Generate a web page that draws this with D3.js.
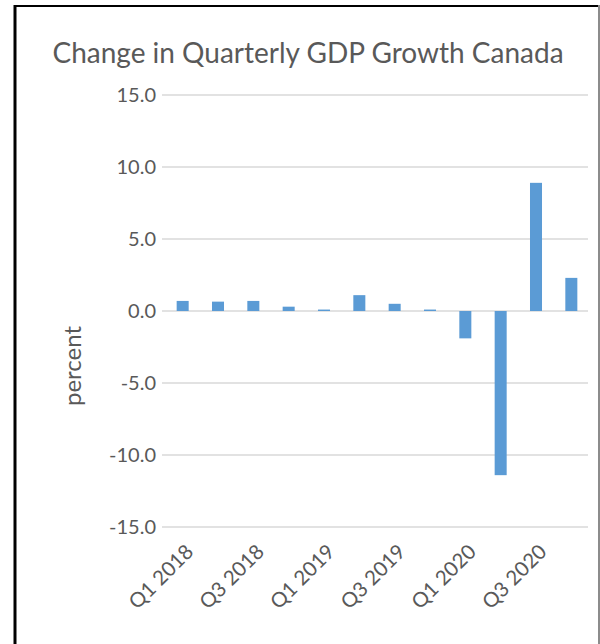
<!DOCTYPE html>
<html>
<head>
<meta charset="utf-8">
<script src="https://cdn.jsdelivr.net/npm/d3@7"></script>
<style>
  html, body { margin: 0; padding: 0; background: #fff; }
  svg { display: block; }
  text { font-family: Lato, "Open Sans", sans-serif; fill: #595959; }
</style>
</head>
<body>
<svg id="chart" width="600" height="644"></svg>
<script>
const categories = ["Q1 2018","Q2 2018","Q3 2018","Q4 2018","Q1 2019","Q2 2019","Q3 2019","Q4 2019","Q1 2020","Q2 2020","Q3 2020","Q4 2020"];
const values = [0.7, 0.65, 0.7, 0.3, 0.1, 1.1, 0.5, 0.1, -1.9, -11.4, 8.9, 2.3];
const yTicks = [-15, -10, -5, 0, 5, 10, 15];
const shownLabels = ["Q1 2018","Q3 2018","Q1 2019","Q3 2019","Q1 2020","Q3 2020"];
const titleText = "Change in Quarterly GDP Growth Canada";
const yTitle = "percent";

const svg = d3.select("#chart");

// frame
svg.append("line").attr("x1", 15).attr("x2", 15).attr("y1", 5).attr("y2", 644)
  .attr("stroke", "#000").attr("stroke-width", 3);
svg.append("line").attr("x1", 14).attr("x2", 598).attr("y1", 6).attr("y2", 6)
  .attr("stroke", "#000").attr("stroke-width", 2);
svg.append("line").attr("x1", 599).attr("x2", 599).attr("y1", 5).attr("y2", 644)
  .attr("stroke", "#8c8c8c").attr("stroke-width", 2);

const x = d3.scaleBand().domain(categories).range([165, 589]).paddingInner(0.66).paddingOuter(0.33);
const y = d3.scaleLinear().domain([-15, 15]).range([527, 95]);

// gridlines
svg.append("g").selectAll("line").data(yTicks).join("line")
  .attr("x1", 162).attr("x2", 588)
  .attr("y1", d => y(d)).attr("y2", d => y(d))
  .attr("stroke", "#d9d9d9").attr("stroke-width", 1.5);

// y axis labels
const fmt = d3.format(".1f");
const yAxis = d3.axisLeft(y).tickValues(yTicks).tickFormat(d => fmt(d).replace("\u2212", "-")).tickSize(0).tickPadding(6);
const gy = svg.append("g").attr("transform", "translate(162,0)").call(yAxis);
gy.select(".domain").remove();
gy.selectAll("text").attr("font-size", 20).style("font-family", "Lato, sans-serif").attr("fill", "#595959");

// bars
svg.append("g").selectAll("rect").data(values).join("rect")
  .attr("x", (d, i) => x(categories[i]))
  .attr("width", x.bandwidth())
  .attr("y", d => y(Math.max(0, d)))
  .attr("height", d => Math.abs(y(d) - y(0)))
  .attr("fill", "#5b9bd5");

// x labels
svg.append("g").selectAll("text").data(shownLabels).join("text")
  .attr("transform", d => `translate(${x(d) + x.bandwidth()/2 + 12},553) rotate(-45)`)
  .attr("text-anchor", "end")
  .attr("font-size", 20.5)
  .text(d => d);

// title
svg.append("text").attr("x", 308).attr("y", 63).attr("text-anchor", "middle")
  .attr("font-size", 28).text(titleText);

// y title
svg.append("text").attr("transform", "translate(81,366) rotate(-90)")
  .attr("text-anchor", "middle").attr("font-size", 24).text(yTitle);
</script>
</body>
</html>
